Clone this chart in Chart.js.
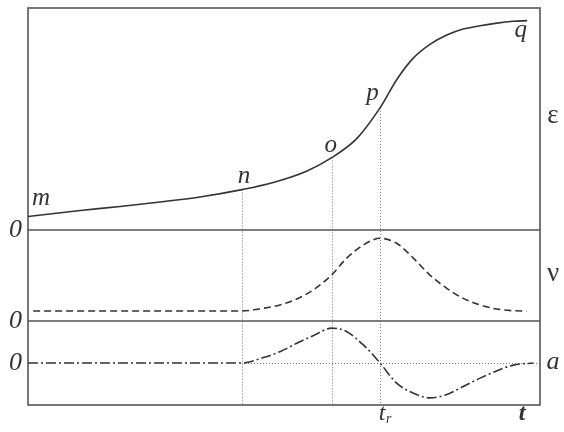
<!DOCTYPE html>
<html>
<head>
<meta charset="utf-8">
<script src="https://cdn.jsdelivr.net/npm/chart.js@4.4.1/dist/chart.umd.min.js"></script>
<style>
  html, body { margin: 0; padding: 0; background: #fff; }
  #wrap { width: 564px; height: 432px; }
</style>
</head>
<body>
<div id="wrap"><canvas id="chart"></canvas></div>
<script>
// ===== DATA =====
// strain ε (top panel)
const epsTime = [0, 10.2, 18, 25.8, 33.6, 41.8, 47.9, 54.5, 59.4, 64.3, 68.75, 72.1, 75.2, 78.5, 81.8, 85, 88.3, 91.6, 94.7, 97.5];
const epsVals = [6.1, 8.8, 10.6, 12.6, 14.9, 18.2, 21.4, 26.6, 32.7, 41.4, 55.0, 68.0, 77.3, 83.6, 87.8, 90.5, 92.0, 93.2, 94.0, 94.3];

// velocity ν (middle panel)
const velTime = [1, 41.8, 46, 49.2, 52.5, 55.7, 59.3, 62.2, 65.5, 68.75, 72, 75.3, 78.5, 81.8, 85, 88.3, 91.5, 94.8, 97.4];
const velVals = [11.0, 11.0, 14.0, 17.6, 24.2, 34.1, 50.5, 68.9, 83.5, 90.9, 85.4, 68.9, 50.5, 35.9, 24.9, 17.6, 13.2, 11.3, 11.0];

// acceleration a (bottom panel)
const accTime = [0, 41.8, 46, 49.2, 52.5, 55.7, 59.3, 62.2, 65.5, 68.75, 72, 75.3, 78.5, 81.8, 85, 88.3, 91.5, 94.8, 98.7];
const accVals = [0, 0, 0.13, 0.27, 0.47, 0.65, 0.83, 0.75, 0.43, 0, -0.48, -0.72, -0.83, -0.75, -0.56, -0.36, -0.19, -0.05, 0];

// named points on the strain curve
const ptNames = ['m', 'n', 'o', 'p', 'q'];
const ptTime = [0, 41.8, 59.4, 68.75, 97.5];
const ptEps = [6.1, 18.2, 32.7, 55.0, 94.3];

// n, o, p get dotted drop lines
const markIdx = [1, 2, 3];
const trTime = 68.75;
const tEndTime = 96.5;

const INK = '#333';
const FONT = '"Liberation Serif", "DejaVu Serif", serif';

const toXY = (ts, vs) => ts.map((t, i) => ({ x: t, y: vs[i] }));

// ===== DRAW HELPERS =====
const overlay = {
    id: 'overlay',
    beforeDatasetsDraw(chart) {
        const { ctx, chartArea: ca, scales: s } = chart;
        ctx.save();
        // dotted guides
        ctx.strokeStyle = '#777';
        ctx.lineWidth = 1;
        ctx.setLineDash([1, 2]);
        markIdx.forEach(i => {
            const x = Math.round(s.x.getPixelForValue(ptTime[i])) + 0.5;
            ctx.beginPath();
            ctx.moveTo(x, s.yEps.getPixelForValue(ptEps[i]));
            ctx.lineTo(x, ca.bottom);
            ctx.stroke();
        });
        const y0 = Math.round(s.yAcc.getPixelForValue(0)) + 0.5;
        ctx.beginPath();
        ctx.moveTo(s.x.getPixelForValue(ptTime[1]), y0);
        ctx.lineTo(ca.right, y0);
        ctx.stroke();
        ctx.setLineDash([]);

        // frame + panel dividers
        ctx.strokeStyle = '#555';
        ctx.lineWidth = 1.6;
        ctx.strokeRect(ca.left, ca.top, ca.width, ca.height);
        [s.yEps.bottom, s.yVel.bottom].forEach(y => {
            ctx.beginPath();
            ctx.moveTo(ca.left, y);
            ctx.lineTo(ca.right, y);
            ctx.stroke();
        });
        ctx.restore();
    },
    afterDatasetsDraw(chart) {
        const { ctx, chartArea: ca, scales: s } = chart;
        ctx.save();
        ctx.fillStyle = INK;
        ctx.textBaseline = 'alphabetic';
        ctx.font = `italic 25px ${FONT}`;

        // letters along the strain curve
        const offs = [[4, -11, 'left'], [2, -7, 'center'], [-1.5, -5.5, 'center'], [-7.5, -8, 'center'], [-6.5, 16, 'center']];
        ptNames.forEach((name, i) => {
            const x = s.x.getPixelForValue(ptTime[i]);
            const y = s.yEps.getPixelForValue(ptEps[i]);
            ctx.textAlign = offs[i][2];
            ctx.fillText(name, x + offs[i][0], y + offs[i][1]);
        });

        // panel names on the right
        const rx = ca.right + 13;
        ctx.textAlign = 'center';
        ctx.font = `27px ${FONT}`;
        ctx.fillText('ε', rx, (s.yEps.top + s.yEps.bottom) / 2 + 4);
        ctx.fillText('ν', rx, (s.yVel.top + s.yVel.bottom) / 2 + 5.5);
        ctx.font = `italic 26px ${FONT}`;
        ctx.fillText('a', rx, s.yAcc.getPixelForValue(0) + 6);

        // time labels under the axis
        const by = ca.bottom + 15;
        const xt = s.x.getPixelForValue(trTime);
        ctx.font = `italic 24px ${FONT}`;
        ctx.textAlign = 'center';
        ctx.fillText('t', xt + 2, by);
        ctx.font = `italic 14px ${FONT}`;
        ctx.textAlign = 'left';
        ctx.fillText('r', xt + 6, by + 3);
        ctx.font = `italic bold 24px ${FONT}`;
        ctx.textAlign = 'center';
        ctx.fillText('t', s.x.getPixelForValue(tEndTime), by);
        ctx.restore();
    }
};

const yAxis = (weight, stackWeight, min, max) => ({
    type: 'linear',
    position: 'left',
    stack: 'panels',
    stackWeight: stackWeight,
    weight: weight,
    min: min,
    max: max,
    grid: { display: false, drawTicks: false },
    border: { display: false },
    ticks: { color: INK, padding: 6, autoSkip: false, font: { family: FONT, style: 'italic', size: 26 } },
    afterBuildTicks: a => { a.ticks = [{ value: 0 }]; },
    afterFit: a => { a.width = 28; a.paddingTop = 0; a.paddingBottom = 0; }
});

new Chart(document.getElementById('chart'), {
    type: 'line',
    data: {
        datasets: [
            { data: toXY(epsTime, epsVals), yAxisID: 'yEps', borderColor: INK, borderWidth: 1.6 },
            { data: toXY(velTime, velVals), yAxisID: 'yVel', borderColor: INK, borderWidth: 1.6, borderDash: [7, 4] },
            { data: toXY(accTime, accVals), yAxisID: 'yAcc', borderColor: INK, borderWidth: 1.6, borderDash: [10, 3, 2, 3] }
        ]
    },
    options: {
        responsive: true,
        maintainAspectRatio: false,
        animation: false,
        layout: { padding: { top: 8, right: 24, left: 0, bottom: 0 } },
        elements: {
            point: { radius: 0 },
            line: { cubicInterpolationMode: 'monotone', fill: false }
        },
        plugins: { legend: { display: false }, tooltip: { enabled: false } },
        scales: {
            x: {
                type: 'linear', min: 0, max: 100,
                grid: { display: false, drawTicks: false },
                border: { display: false },
                ticks: { display: false },
                afterFit: a => { a.height = 27; a.paddingLeft = 0; a.paddingRight = 0; }
            },
            yEps: yAxis(3, 222, 0, 100),
            yVel: yAxis(2, 91, 0, 100),
            yAcc: yAxis(1, 84, -1, 1)
        }
    },
    plugins: [overlay]
});
</script>
</body>
</html>
